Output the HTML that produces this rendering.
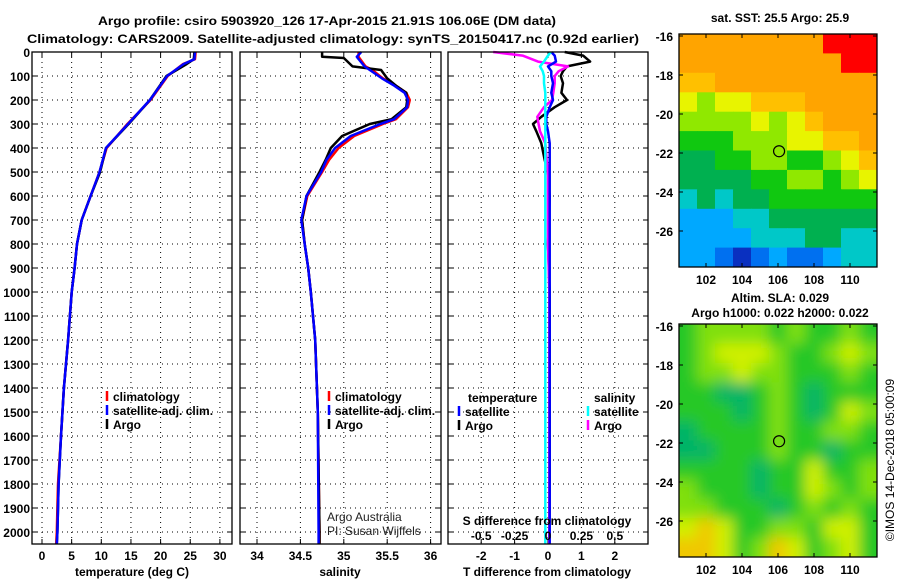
<!DOCTYPE html>
<html><head><meta charset="utf-8"><style>
html,body{margin:0;padding:0;background:#fff;}
svg{display:block;font-family:"Liberation Sans",sans-serif;}
.b{font-weight:bold;font-size:12px;}
</style></head><body>
<svg id="chart" width="900" height="580" viewBox="0 0 900 580" xmlns="http://www.w3.org/2000/svg">
<text x="327" y="25" text-anchor="middle" class="b" font-size="13.5" textLength="458" lengthAdjust="spacingAndGlyphs">Argo profile: csiro 5903920_126 17-Apr-2015 21.91S 106.06E (DM data)</text>
<text x="333" y="43" text-anchor="middle" class="b" font-size="13.5" textLength="612" lengthAdjust="spacingAndGlyphs">Climatology: CARS2009. Satellite-adjusted climatology: synTS_20150417.nc (0.92d earlier)</text>
<g id="g"></g>
</svg>
<script>
// ---- data ----
const tDepth = [0,30,50,100,200,300,400,500,600,700,800,900,1000,1200,1400,1600,1800,2000,2050];
const tArgo  = [25.7,25.6,24.4,21.0,18.2,14.6,10.8,9.8,8.2,6.7,5.9,5.5,5.0,4.4,3.7,3.2,2.8,2.6,2.5];
const tClim  = [25.9,25.8,23.8,21.2,18.3,14.4,10.9,9.7,8.2,6.7,5.9,5.5,5.0,4.4,3.7,3.2,2.7,2.5,2.4];
const tSat   = [25.8,25.7,23.9,21.1,18.2,14.5,10.8,9.7,8.2,6.7,5.9,5.5,5.0,4.4,3.7,3.2,2.8,2.6,2.5];
const sDepth = [0,20,25,60,75,110,140,170,200,230,280,300,350,400,450,500,600,700,800,900,1000,1200,1500,2000,2050];
const sArgo  = [34.75,34.75,35.0,35.1,35.43,35.5,35.6,35.72,35.73,35.72,35.55,35.3,34.98,34.85,34.79,34.72,34.57,34.52,34.55,34.59,34.62,34.67,34.70,34.72,34.72];
const sClim  = [35.17,35.17,35.18,35.25,35.33,35.45,35.6,35.72,35.76,35.74,35.6,35.45,35.12,34.94,34.83,34.75,34.58,34.52,34.55,34.59,34.62,34.67,34.70,34.72,34.72];
const sSat   = [35.2,35.15,35.16,35.24,35.3,35.44,35.58,35.7,35.74,35.73,35.58,35.42,35.08,34.9,34.8,34.74,34.57,34.51,34.55,34.59,34.62,34.67,34.70,34.71,34.71];
const dDepth = [0,15,40,60,80,100,130,170,200,230,270,300,330,380,450,500,600,800,1000,1200,1500,1800,2050];
const dT     = [0.5,1.05,1.26,0.57,0.45,0.38,0.45,0.4,0.57,0.2,-0.2,-0.45,-0.35,-0.2,-0.1,0.0,0.05,0.0,0.05,0.05,0.05,0.05,0.04];
const dTsat  = [0.1,0.2,0.24,0.0,0.1,0.1,0.15,0.1,0.15,0.05,-0.05,-0.05,0.0,0.05,0.05,0.05,0.05,0.05,0.05,0.05,0.05,0.05,0.05];
const dS     = [-0.41,-0.19,-0.075,0.15,0.08,0.05,0.05,0.04,0.03,-0.03,-0.08,-0.07,-0.06,-0.02,-0.01,0.0,0.0,0.0,0.01,0.01,0.01,0.01,0.01];
const dSsat  = [0.02,0.0,-0.03,-0.06,-0.04,-0.03,-0.03,-0.02,-0.02,-0.02,-0.02,-0.02,-0.02,-0.02,-0.02,-0.02,-0.02,-0.02,-0.02,-0.02,-0.02,-0.02,-0.02];
const depthTicks = [0,100,200,300,400,500,600,700,800,900,1000,1100,1200,1300,1400,1500,1600,1700,1800,1900,2000];
const tTicks = [0,5,10,15,20,25,30];
const sTicks = [34,34.5,35,35.5,36];
const dTTicks = [-2,-1,0,1,2];
const dSTicks = [-0.5,-0.25,0,0.25,0.5];
const sstGrid = [
[9,9,9,9,9,9,9,9,10,10,10],
[9,9,9,9,9,9,9,9,9,10,10],
[8,8,9,9,9,9,9,9,9,9,9],
[7,6,7,7,8,8,8,9,9,9,9],
[6,6,6,6,7,6,7,8,9,9,9],
[5,5,5,6,6,6,7,7,8,8,9],
[4,4,5,5,6,6,5,5,6,7,8],
[4,4,4,4,5,5,6,6,5,6,7],
[3,4,3,4,4,5,5,5,5,5,5],
[2,2,2,3,3,4,4,4,4,4,4],
[2,2,2,2,3,3,3,4,4,3,3],
[2,2,1,0,1,2,1,1,2,3,3]];
const slaGrid = [
[1,2,2,2,2,1,2,1,1,2,1],
[1,2,3,3,3,2,1,1,2,3,2],
[1,2,2,3,2,2,1,1,1,2,1],
[1,1,0,0,1,2,1,0,1,1,1],
[1,1,1,0,1,2,1,0,1,3,2],
[0,1,1,1,1,2,1,1,2,2,1],
[0,0,1,1,1,2,1,1,0,1,1],
[1,1,1,1,0,1,1,3,1,1,2],
[2,1,1,1,0,1,1,3,2,1,2],
[2,2,1,1,1,0,1,2,1,2,1],
[3,4,3,1,1,2,2,1,3,3,1],
[4,4,3,1,2,4,3,1,2,3,1]];
const lonTicks = [102,104,106,108,110];
const latTicks = [-16,-18,-20,-22,-24,-26];

// ---- helpers ----
const NS="http://www.w3.org/2000/svg";
const G=document.getElementById('g');
function mk(tag,attrs,parent){const e=document.createElementNS(NS,tag);for(const k in attrs)e.setAttribute(k,attrs[k]);(parent||G).appendChild(e);return e;}
function txt(x,y,s,cls,anchor,parent){const e=mk('text',{x:x,y:y,'text-anchor':anchor||'middle'},parent);if(cls)e.setAttribute('class',cls);e.textContent=s;return e;}
const Y0=52, Y1=544;
const yD=d=>Y0+d*0.24;
const xT=v=>42+v*5.93;
const xS=v=>257+(v-34)*86.8;
const xDT=v=>548+v*33.4;
const xDS=v=>548+v*133.6;

function panel(name,x0,x1){
  const g=mk('g',{});
  
  
  return g;
}
function frame(g,x0,x1){
  const r=mk('rect',{x:x0,y:Y0,width:x1-x0,height:Y1-Y0,fill:'none',stroke:'#000','stroke-width':1.3},g);
  
  
}
function hgrid(g,x0,x1){
  depthTicks.forEach(d=>{
    const y=yD(d);
    if(d>0) mk('line',{x1:x0,x2:x1,y1:y,y2:y,stroke:'#000','stroke-dasharray':'1,4','stroke-width':1},g);
    mk('line',{x1:x0,x2:x0+5,y1:y,y2:y,stroke:'#000'},g);
    mk('line',{x1:x1-5,x2:x1,y1:y,y2:y,stroke:'#000'},g);
  });
}
function vgrid(g,xs,x0,x1){
  xs.forEach(x=>{
    if(x>x0+2&&x<x1-2) mk('line',{x1:x,x2:x,y1:Y0,y2:Y1,stroke:'#000','stroke-dasharray':'1,4','stroke-width':1},g);
    mk('line',{x1:x,x2:x,y1:Y1,y2:Y1-5,stroke:'#000'},g);
    mk('line',{x1:x,x2:x,y1:Y0,y2:Y0+5,stroke:'#000'},g);
  });
}
function line(g,depths,vals,fx,color,w,name){
  const pts=depths.map((d,i)=>fx(vals[i]).toFixed(1)+','+yD(d).toFixed(1)).join(' ');
  const p=mk('polyline',{points:pts,fill:'none',stroke:color,'stroke-width':w,'stroke-linejoin':'round'},g);
  
  
}
function legend(g,x,y,items){
  items.forEach((it,i)=>{
    mk('line',{x1:x,x2:x,y1:y+i*14-10,y2:y+i*14,stroke:it[1],'stroke-width':2.5},g);
    const t=txt(x+6,y+i*14,it[0],'b','start',g);
    
    
  });
}

// depth labels
depthTicks.forEach(d=>{
  const t=txt(30,yD(d)+5,String(d),'b','end');
  
  
});

// ---- panel 1: temperature ----
let g1=panel('temperature-panel');
vgrid(g1,tTicks.map(xT),32,232);
hgrid(g1,32,232);
line(g1,tDepth,tClim,xT,'#f00',2.5,'temperature-climatology-line');
line(g1,tDepth,tArgo,xT,'#000',2.5,'temperature-argo-line');
line(g1,tDepth,tSat,xT,'#00f',2.5,'temperature-satellite-line');
frame(g1,32,232);
tTicks.forEach(v=>{const t=txt(xT(v),560,String(v),'b','middle',g1);});
let a1=txt(132,576,'temperature (deg C)','b','middle',g1);

legend(g1,107,401,[['climatology','#f00'],['satellite-adj. clim.','#00f'],['Argo','#000']]);

// ---- panel 2: salinity ----
let g2=panel('salinity-panel');
vgrid(g2,sTicks.map(xS),240,441);
hgrid(g2,240,441);
line(g2,sDepth,sClim,xS,'#f00',2.5,'salinity-climatology-line');
line(g2,sDepth,sArgo,xS,'#000',2.5,'salinity-argo-line');
line(g2,sDepth,sSat,xS,'#00f',2.5,'salinity-satellite-line');
frame(g2,240,441);
sTicks.forEach(v=>{const t=txt(xS(v),560,String(v),'b','middle',g2);});
let a2=txt(340,576,'salinity','b','middle',g2);

legend(g2,329,401,[['climatology','#f00'],['satellite-adj. clim.','#00f'],['Argo','#000']]);
let c1=txt(327,521,'Argo Australia','',"start",g2);c1.setAttribute('font-size','12');c1.setAttribute('fill','#222');

let c2=txt(327,535,'PI: Susan Wijffels','',"start",g2);c2.setAttribute('font-size','12');c2.setAttribute('fill','#222');


// ---- panel 3: differences ----
let g3=panel('difference-panel');
vgrid(g3,dTTicks.map(xDT),448,648);
hgrid(g3,448,648);
line(g3,dDepth,dT,xDT,'#000',2.5,'t-diff-argo-line');
line(g3,dDepth,dS,xDS,'#f0f',2.5,'s-diff-argo-line');
line(g3,dDepth,dTsat,xDT,'#00f',2.5,'t-diff-satellite-line');
line(g3,dDepth,dSsat,xDS,'#0ff',2.5,'s-diff-satellite-line');
frame(g3,448,648);
dTTicks.forEach(v=>{const t=txt(xDT(v),560,String(v),'b','middle',g3);});
dSTicks.forEach(v=>{const t=txt(xDS(v),540,String(v),'b','middle',g3);});
let a3=txt(547,576,'T difference from climatology','b','middle',g3);

let a4=txt(547,525,'S difference from climatology','b','middle',g3);

let lt=txt(468,402,'temperature','b','start',g3);
legend(g3,459,416,[['satellite','#00f'],['Argo','#000']]);
let ls=txt(594,402,'salinity','b','start',g3);
legend(g3,588,416,[['satellite','#0ff'],['Argo','#f0f']]);

// ---- maps ----
const MX0=679, MX1=877;
const lonX=l=>706+(l-102)*18;
function mapPanel(name,y0,y1,latTop,grid,colors,blur){
  const g=mk('g',{});
  
  
  const sc=(y1-y0)/ (latTop+28- (latTop)) ; // unused
  const latY=la=>y0+2+(latTop-la)*19.5;
  const rows=grid.length, cols=grid[0].length;
  const cw=(MX1-MX0)/cols, ch=(y1-y0)/rows;
  const id='clip'+y0;
  const cp=mk('clipPath',{id:id},g);mk('rect',{x:MX0,y:y0,width:MX1-MX0,height:y1-y0},cp);
  const cg=mk('g',{'clip-path':'url(#'+id+')'},g);
  let inner=cg;
  if(blur){
    const f=mk('filter',{id:'bl'+y0,x:'-10%',y:'-10%',width:'120%',height:'120%'},g);
    mk('feGaussianBlur',{stdDeviation:blur},f);
    inner=mk('g',{filter:'url(#bl'+y0+')'},cg);
  }
  grid.forEach((row,r)=>row.forEach((v,c)=>{
    const cell=mk('rect',{x:(MX0+c*cw-(blur?cw:0)*(c==0)).toFixed(1),y:(y0+r*ch-(blur?ch:0)*(r==0)).toFixed(1),width:(cw+0.6+(blur?cw:0)*(c==0||c==cols-1)).toFixed(1),height:(ch+0.6+(blur?ch:0)*(r==0||r==rows-1)).toFixed(1),fill:colors[v]},inner);
    
    
  }));
  mk('rect',{x:MX0,y:y0,width:MX1-MX0,height:y1-y0,fill:'none',stroke:'#000','stroke-width':1.3},g);
  lonTicks.forEach(l=>{
    mk('line',{x1:lonX(l),x2:lonX(l),y1:y1,y2:y1-4,stroke:'#000'},g);
    mk('line',{x1:lonX(l),x2:lonX(l),y1:y0,y2:y0+4,stroke:'#000'},g);
    const t=txt(lonX(l),y1+17,String(l),'b','middle',g);
    
  });
  latTicks.forEach(la=>{
    const y=latY(la);
    mk('line',{x1:MX0,x2:MX0+4,y1:y,y2:y,stroke:'#000'},g);
    mk('line',{x1:MX1,x2:MX1-4,y1:y,y2:y,stroke:'#000'},g);
    const t=txt(673,y+5,String(la),'b','end',g);
    
  });
  const m=mk('circle',{cx:lonX(106.06),cy:latY(-21.91),r:5.5,fill:'none',stroke:'#000','stroke-width':1.2},g);
  
}
const sstColors=['#0a30c0','#0070f0','#00a8ff','#00c8c8','#00b050','#10c810','#90e800','#e8f400','#ffc000','#ffa400','#ff0000'];
const slaColors=['#00b468','#28c828','#80e010','#d0f000','#f0c800'];
mapPanel('sst-map',34,267,-16,sstGrid,sstColors,0);
mapPanel('sla-map',324,557,-16,slaGrid,slaColors,7);
let m1=txt(780,22,'sat. SST: 25.5 Argo: 25.9','b','middle');
let m2=txt(780,302,'Altim. SLA: 0.029','b','middle');
let m3=txt(780,317,'Argo h1000: 0.022 h2000: 0.022','b','middle');
let cr=txt(0,0,'©IMOS 14-Dec-2018 05:00:09','','middle');
cr.setAttribute('font-size','12');
cr.setAttribute('transform','translate(894,460) rotate(-90)');

</script>
</body></html>
